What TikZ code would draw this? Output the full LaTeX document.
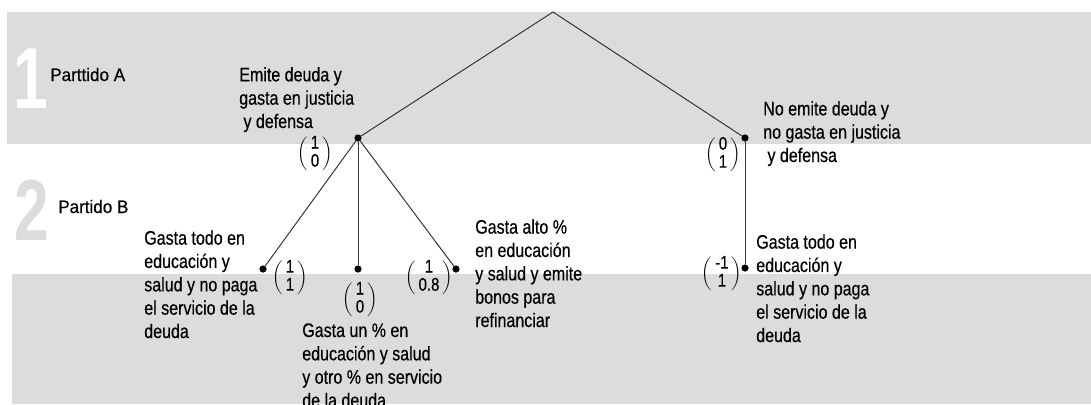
\documentclass[tikz,border=0pt]{standalone}
\usepackage{fontspec}
\setmainfont{Liberation Sans}[FakeStretch=0.82, FakeBold=0.4]
\newfontfamily\lblfont{Liberation Sans}[FakeStretch=0.94, FakeBold=0.4]
\newfontfamily\bigfont{Liberation Sans}[FakeStretch=0.72]
\definecolor{band}{HTML}{DCDCDC}
\definecolor{edge}{HTML}{333333}
\newcommand\pay[2]{$\left(\begin{tabular}{@{\,}c@{\,}}#1\\#2\end{tabular}\right)$}

\begin{document}
\begin{tikzpicture}[x=0.025cm, y=-0.025cm,
        txt/.style={anchor=base west, align=left, inner sep=0pt, font=\fontsize{13.9}{16.6}\selectfont},
        lbl/.style={anchor=base west, inner sep=0pt, font=\lblfont\fontsize{12.9}{14}\selectfont},
        big/.style={anchor=base, inner sep=0pt, font=\bigfont\fontsize{61.6}{62}\selectfont\bfseries},
        pay/.style={inner sep=0pt, font=\fontsize{13}{12.8}\selectfont},
        dot/.style={circle, fill=black, inner sep=0pt, minimum size=0.18cm},
        edge/.style={draw=edge, line width=0.7pt}]
            \useasboundingbox (0, 0) rectangle (1091, 404);
            \fill[band] (7, 12) rectangle (1091, 144);
            \fill[band] (12, 274) rectangle (1091, 404);

            \node[big, text=white] (n1) at (31, 108) {1};
            \node[big, text=band] (n2) at (32, 240) {2};
            \node[lbl] (pa) at (50, 81) {Parttido A};
            \node[lbl] (pb) at (58, 213) {Partido B};

            \coordinate (root) at (553, 12);
            \node[dot] (a1) at (358, 138) {};
            \node[dot] (a2) at (745, 138) {};
            \node[dot] (b1) at (263, 269) {};
            \node[dot] (b2) at (358, 269) {};
            \node[dot] (b3) at (456, 269) {};
            \node[dot] (b4) at (745, 268) {};

            \node[txt] (t1) at (239, 128) {Emite deuda y\\gasta en justicia\\\hspace{3pt}y defensa};
            \node[txt] (t2) at (763, 162) {No emite deuda y\\no gasta en justicia\\\hspace{3pt}y defensa};
            \node[txt] (t3) at (144, 338) {Gasta todo en\\educación y\\salud y no paga\\el servicio de la\\deuda};
            \node[txt] (t4) at (302, 407) {Gasta un \% en\\educación y salud\\y otro \% en servicio\\de la deuda};
            \node[txt] (t5) at (475, 327) {Gasta alto \%\\en educación\\y salud y emite\\bonos para\\refinanciar};
            \node[txt] (t6) at (756, 342) {Gasta todo en\\educación y\\salud y no paga\\el servicio de la\\deuda};

            \node[pay] (p1) at (315, 154) {\pay{1}{0}};
            \node[pay] (p2) at (723, 155) {\pay{0}{1}};
            \node[pay] (p3) at (290, 278) {\pay{1}{1}};
            \node[pay] (p4) at (360, 300) {\pay{1}{0}};
            \node[pay] (p5) at (429, 278) {\pay{1}{0.8}};
            \node[pay] (p6) at (722, 274) {\pay{-1}{1}};

            \draw[edge] (root) -- (a1);
            \draw[edge] (root) -- (a2);
            \draw[edge] (a1) -- (b1);
            \draw[edge] (a1) -- (b2);
            \draw[edge] (a1) -- (b3);
            \draw[edge] (a2) -- (b4);
        \end{tikzpicture}
\end{document}
